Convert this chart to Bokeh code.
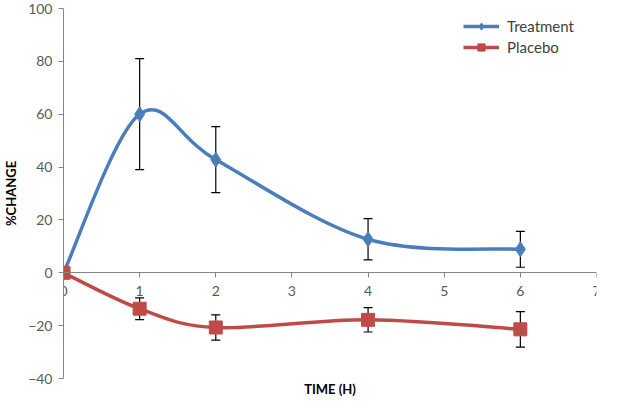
from bokeh.plotting import figure
from bokeh.models import (ColumnDataSource, Whisker, TeeHead, FixedTicker, Title,
                          Legend, LegendItem, Range1d)
from bokeh.embed import file_html
from bokeh.resources import INLINE

# ---- data ----
time_h = [0, 1, 2, 4, 6]
treatment = [0, 60, 42.8, 12.7, 8.9]
treatment_err = [0, 21, 12.5, 7.8, 6.8]
placebo = [0, -13.6, -20.7, -17.8, -21.4]
placebo_err = [0, 4.1, 4.8, 4.6, 6.7]
x_ticks = [0, 1, 2, 3, 4, 5, 6, 7]
y_ticks = [-40, -20, 0, 20, 40, 60, 80, 100]

BLUE = "#4A7EBB"
RED = "#BE4B48"
FONT = "Lato"


def smooth_segments(xs, ys):
    """Excel-like smoothed line: cubic Bezier segments (Catmull-Rom control points)."""
    n = len(xs)
    d = dict(x0=[], y0=[], x1=[], y1=[], cx0=[], cy0=[], cx1=[], cy1=[])
    for i in range(n - 1):
        p0 = (xs[max(i - 1, 0)], ys[max(i - 1, 0)])
        p1 = (xs[i], ys[i])
        p2 = (xs[i + 1], ys[i + 1])
        p3 = (xs[min(i + 2, n - 1)], ys[min(i + 2, n - 1)])
        d["x0"].append(p1[0]); d["y0"].append(p1[1])
        d["x1"].append(p2[0]); d["y1"].append(p2[1])
        d["cx0"].append(p1[0] + (p2[0] - p0[0]) / 6)
        d["cy0"].append(p1[1] + (p2[1] - p0[1]) / 6)
        d["cx1"].append(p2[0] - (p3[0] - p1[0]) / 6)
        d["cy1"].append(p2[1] - (p3[1] - p1[1]) / 6)
    return ColumnDataSource(d)


p = figure(width=602, height=396, output_backend="svg", toolbar_location=None,
           x_range=Range1d(0, 7), y_range=Range1d(-40, 100),
           min_border_left=56, min_border_right=6, min_border_top=8,
           min_border_bottom=0)
p.outline_line_color = None
p.xgrid.visible = False
p.ygrid.visible = False
p.background_fill_color = "white"
p.border_fill_color = "white"

# x axis crossing at y = 0
xa = p.xaxis[0]
xa.fixed_location = 0
xa.ticker = FixedTicker(ticks=x_ticks)
xa.axis_line_color = "#868686"
xa.major_tick_line_color = "#868686"
xa.major_tick_out = 5
xa.major_tick_in = 0
xa.minor_tick_line_color = None
xa.major_label_text_font = FONT
xa.major_label_text_font_size = "14px"
xa.major_label_text_color = "#595959"
xa.major_label_standoff = 8

ya = p.yaxis[0]
ya.ticker = FixedTicker(ticks=y_ticks)
ya.axis_line_color = "#868686"
ya.major_tick_line_color = "#868686"
ya.major_tick_out = 5
ya.major_tick_in = 0
ya.minor_tick_line_color = None
ya.major_label_text_font = FONT
ya.major_label_text_font_size = "14px"
ya.major_label_text_color = "#595959"
ya.major_label_standoff = 6
ya.axis_label = "%CHANGE"
ya.axis_label_text_font = FONT
ya.axis_label_text_font_size = "13px"
ya.axis_label_text_font_style = "bold"
ya.axis_label_text_color = "#000000"
ya.axis_label_standoff = 6

p.add_layout(Title(text="TIME (H)", align="center", text_font=FONT,
                   text_font_size="13px", text_font_style="bold",
                   text_color="#000000", standoff=0), "below")

# series
t_src = ColumnDataSource(dict(x=time_h, y=treatment,
                              lo=[v - e for v, e in zip(treatment, treatment_err)],
                              hi=[v + e for v, e in zip(treatment, treatment_err)]))
pl_src = ColumnDataSource(dict(x=time_h, y=placebo,
                               lo=[v - e for v, e in zip(placebo, placebo_err)],
                               hi=[v + e for v, e in zip(placebo, placebo_err)]))

t_line = p.bezier(x0="x0", y0="y0", x1="x1", y1="y1", cx0="cx0", cy0="cy0",
                  cx1="cx1", cy1="cy1", source=smooth_segments(time_h, treatment),
                  line_color=BLUE, line_width=3.5)
p_line = p.bezier(x0="x0", y0="y0", x1="x1", y1="y1", cx0="cx0", cy0="cy0",
                  cx1="cx1", cy1="cy1", source=smooth_segments(time_h, placebo),
                  line_color=RED, line_width=3.5)

t_mark = p.scatter("x", "y", source=t_src, marker="diamond", size=15,
                   fill_color=BLUE, line_color=BLUE)
p_mark = p.scatter("x", "y", source=pl_src, marker="square", size=13,
                   fill_color=RED, line_color=RED)

for src in (t_src, pl_src):
    w = Whisker(base="x", lower="lo", upper="hi", source=src,
                line_color="black", line_width=1.2,
                upper_head=TeeHead(size=9, line_color="black", line_width=1.2),
                lower_head=TeeHead(size=9, line_color="black", line_width=1.2))
    p.add_layout(w)

legend = Legend(items=[LegendItem(label="Treatment", renderers=[t_line, t_mark]),
                       LegendItem(label="Placebo", renderers=[p_line, p_mark])],
                location=(400, 322), border_line_color=None,
                background_fill_alpha=0, glyph_width=36, glyph_height=18,
                label_standoff=8, spacing=3, padding=0, margin=0,
                label_text_font=FONT, label_text_font_size="15px",
                label_text_color="#404040")
p.add_layout(legend)

open("out.html", "w").write(file_html(p, INLINE))
